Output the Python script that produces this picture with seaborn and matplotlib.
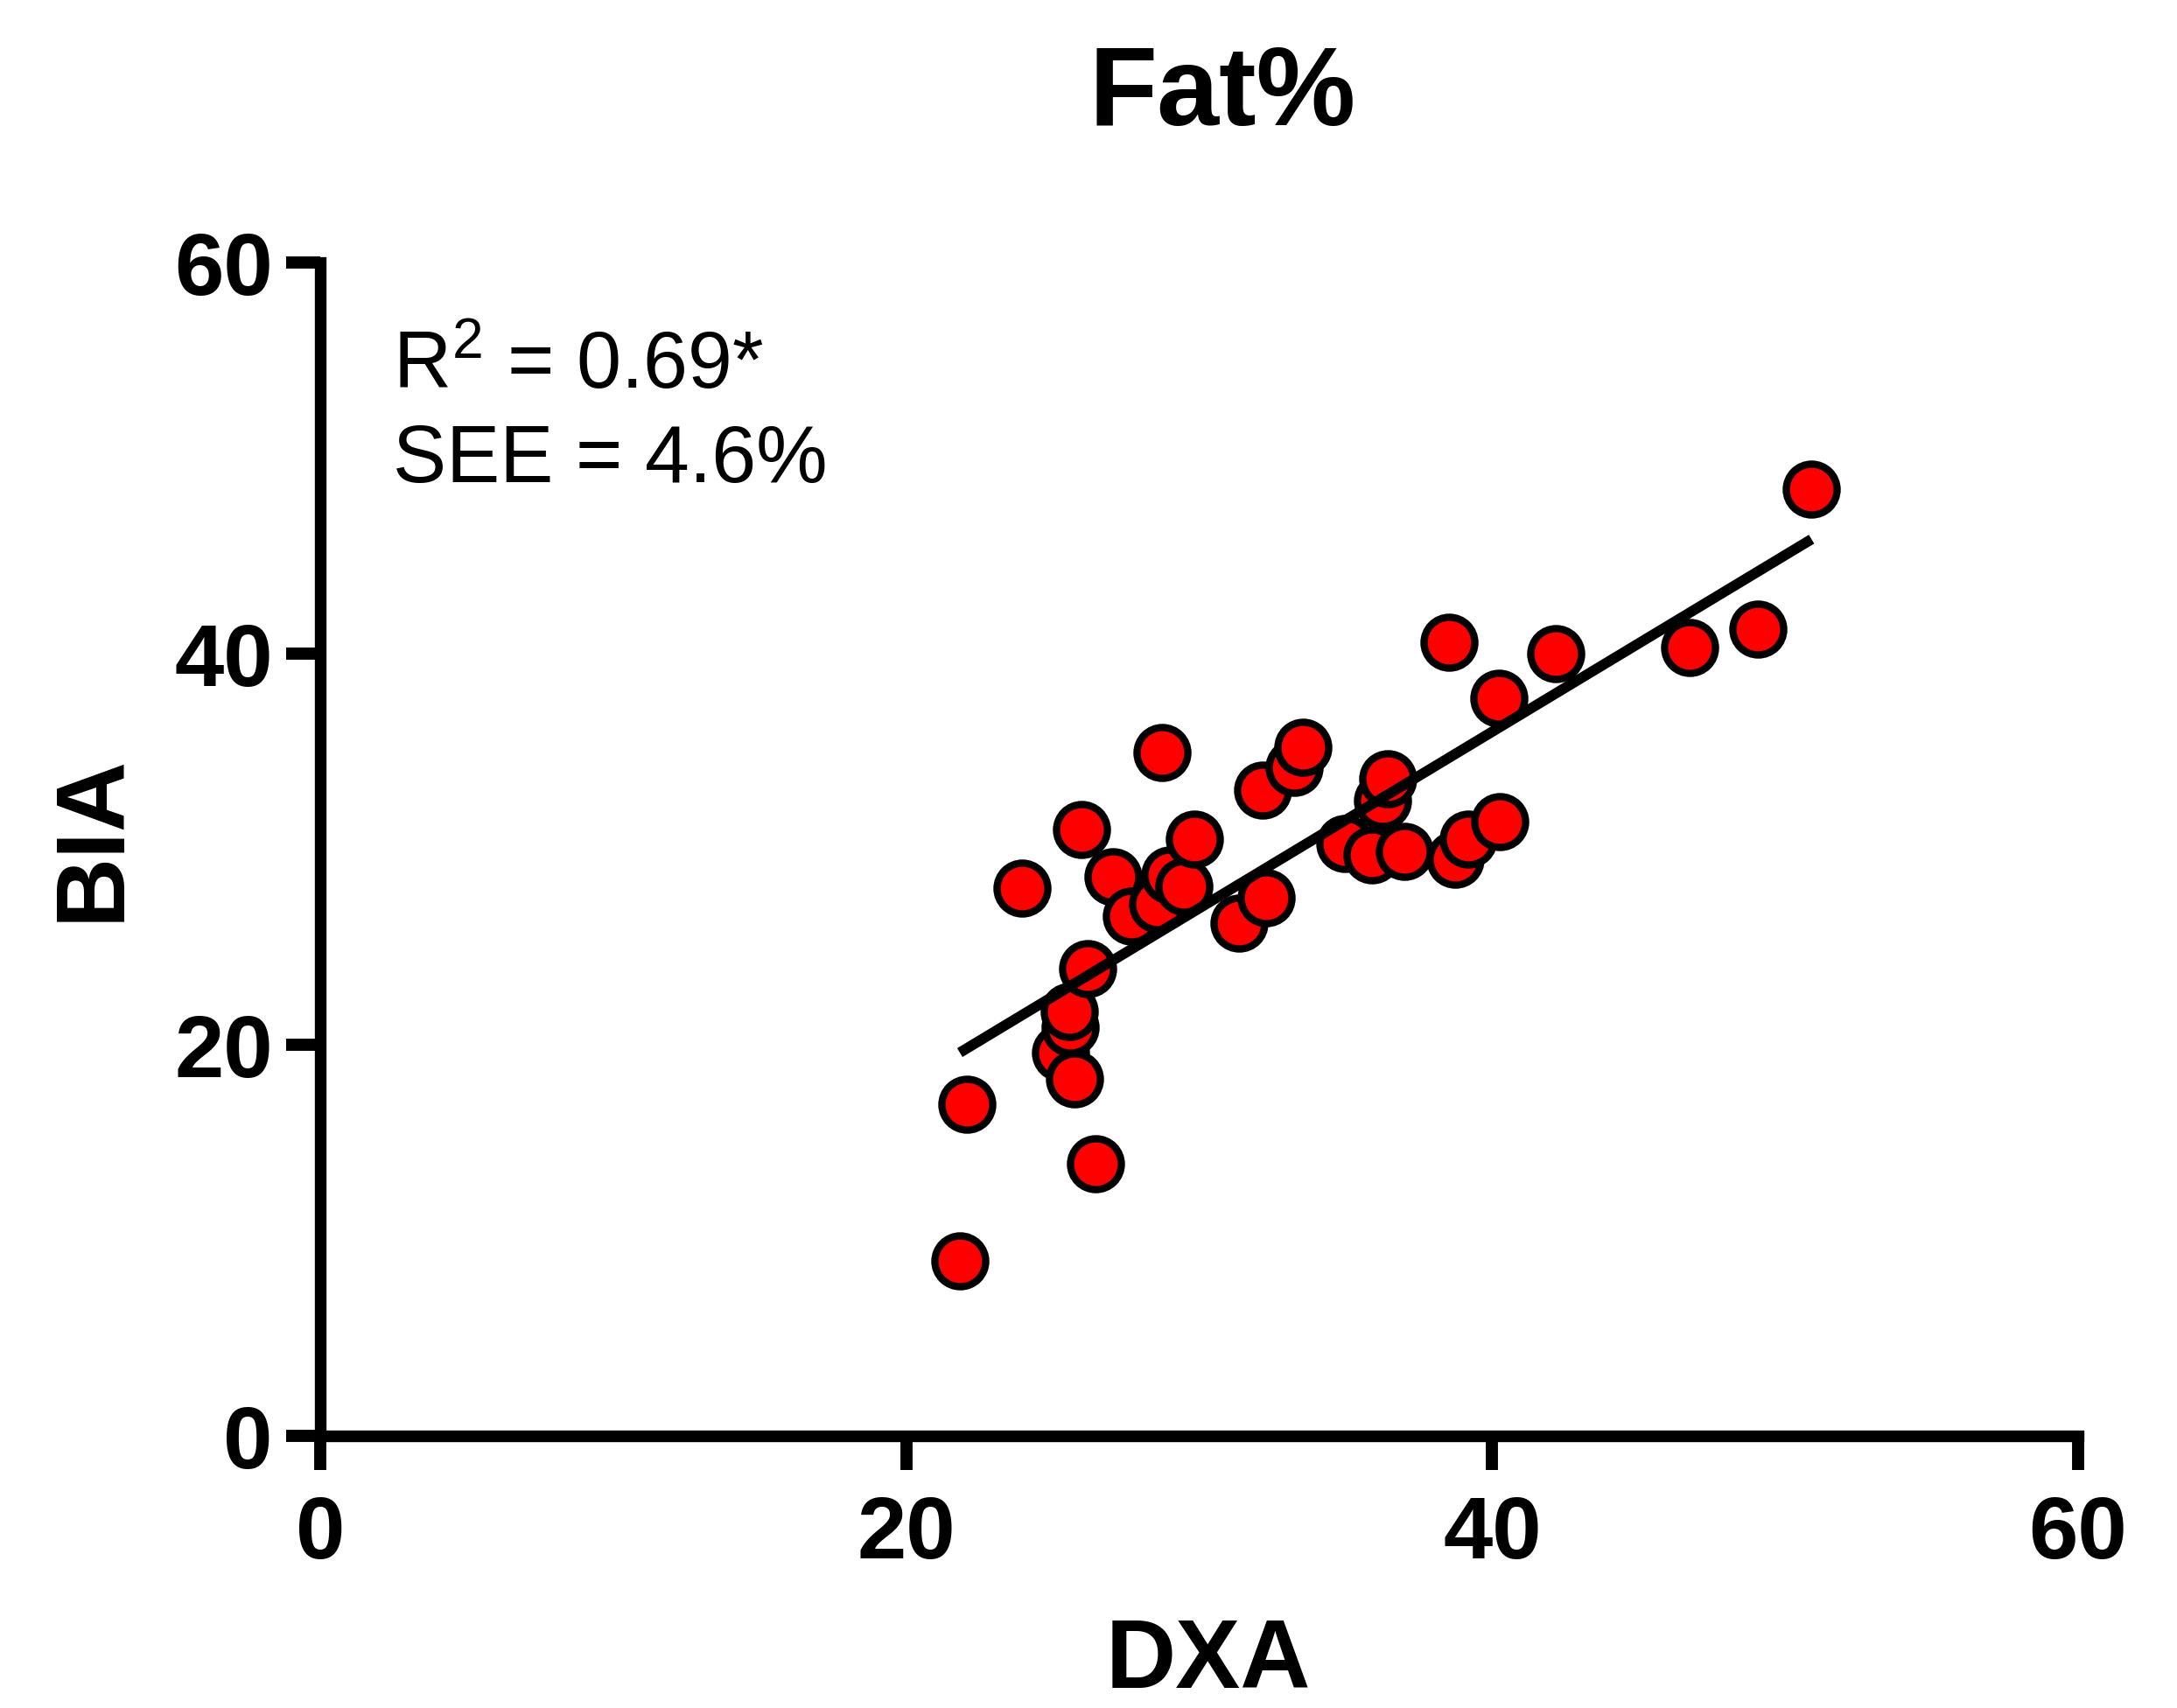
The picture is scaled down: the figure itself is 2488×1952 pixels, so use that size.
import numpy as np
import pandas as pd
import seaborn as sns
import matplotlib.pyplot as plt

dxa = [21.83, 22.07, 23.94, 25.26, 25.59, 25.55, 25.74, 25.97, 26.18, 26.46,
       27.05, 27.68, 28.57, 28.72, 28.99, 29.47, 29.84, 31.35, 32.15, 32.27,
       33.25, 33.55, 34.96, 35.90, 36.25, 36.45, 37.00, 38.54, 38.73, 39.18,
       40.22, 40.25, 42.16, 46.74, 49.07, 50.90]
bia = [8.95, 16.96, 28.0, 19.6, 20.9, 21.7, 18.25, 31.0, 23.9, 13.9,
       28.6, 26.6, 27.2, 34.94, 28.7, 28.1, 30.5, 26.2, 33.0, 27.5,
       34.2, 35.2, 30.3, 29.7, 32.5, 33.6, 29.9, 40.6, 29.5, 30.5,
       37.7, 31.4, 40.0, 40.3, 41.25, 48.4]

ticks = [0, 20, 40, 60]
titulo = "Fat%"
stats_r2 = "R$^2$ = 0.69*"
stats_see = "SEE = 4.6%"

df = pd.DataFrame({"DXA": dxa, "BIA": bia})

sns.set_style("ticks")
plt.rcParams["font.family"] = ["Liberation Sans", "DejaVu Sans"]
plt.rcParams["mathtext.default"] = "regular"
plt.rcParams["text.color"] = "black"
plt.rcParams["axes.labelcolor"] = "black"
plt.rcParams["xtick.color"] = "black"
plt.rcParams["ytick.color"] = "black"

fig = plt.figure(figsize=(24.88, 19.52), dpi=100)
ax = fig.add_axes([0.1471, 0.1593, 0.8075, 0.6870])

sns.regplot(data=df, x="DXA", y="BIA", ci=None, ax=ax,
            scatter_kws=dict(s=1750, color="#ff0000", edgecolor="black",
                             linewidths=6, alpha=1, zorder=3),
            line_kws=dict(color="black", linewidth=8.5,
                          solid_capstyle="butt", zorder=4))

ax.set_xlim(0, 60)
ax.set_ylim(0, 60)
ax.set_xticks(ticks)
ax.set_yticks(ticks)
sns.despine(ax=ax)
for lado in ["left", "bottom"]:
    ax.spines[lado].set_linewidth(9.6)
    ax.spines[lado].set_color("black")
ax.tick_params(length=28, width=10, direction="out", labelsize=73,
               colors="black")
ax.tick_params(axis="x", pad=20)
ax.tick_params(axis="y", pad=11)
for lab in ax.get_xticklabels() + ax.get_yticklabels():
    lab.set_fontweight("bold")

ax.set_xlabel("DXA", fontsize=80, fontweight="bold")
ax.xaxis.set_label_coords(0.505, -0.154)
ax.set_ylabel("BIA", fontsize=80, fontweight="bold")
ax.yaxis.set_label_coords(-0.103, 0.51)
ax.set_title(titulo, fontsize=92, fontweight="bold", x=0.513, pad=113)

ax.text(0.0413, 0.8926, stats_r2, transform=ax.transAxes, fontsize=66,
        va="baseline", ha="left")
ax.text(0.0413, 0.8128, stats_see, transform=ax.transAxes, fontsize=66,
        va="baseline", ha="left")

fig.savefig("out.png", dpi=100)
plt.close(fig)
